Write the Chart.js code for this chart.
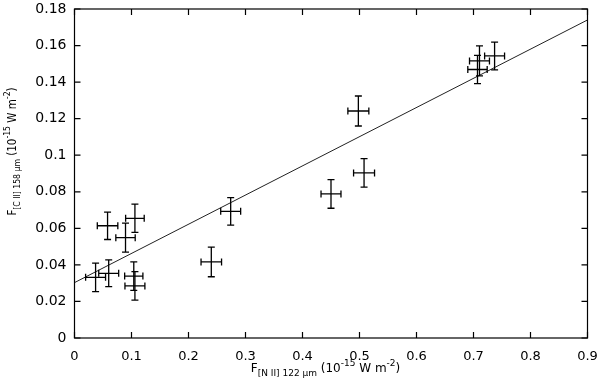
<!DOCTYPE html>
<html><head><meta charset="utf-8">
<script src="https://cdn.jsdelivr.net/npm/chart.js@4/dist/chart.umd.min.js"></script>
<style>html,body{margin:0;padding:0;background:#fff}#wrap{width:600px;height:391px}</style>
</head><body><div id="wrap"><canvas id="c" width="600" height="391"></canvas></div>
<script>
// Data
const xValues = [0.058, 0.0895, 0.106, 0.037, 0.060, 0.104, 0.106, 0.240, 0.274, 0.498, 0.508, 0.450, 0.7105, 0.707, 0.737];
const yValues = [0.0614, 0.0549, 0.0655, 0.0332, 0.0354, 0.0339, 0.0285, 0.0416, 0.0693, 0.1242, 0.0903, 0.0788, 0.1516, 0.1469, 0.1543];
const xErrors = [0.018, 0.017, 0.0163, 0.0175, 0.0175, 0.016, 0.0175, 0.018, 0.0175, 0.0184, 0.0184, 0.0175, 0.0175, 0.017, 0.0175];
const yErrors = [0.0075, 0.0079, 0.0077, 0.0078, 0.0073, 0.0078, 0.0078, 0.0081, 0.0075, 0.0082, 0.0078, 0.0078, 0.0082, 0.0077, 0.0076];
const fitX = [0, 0.9];
const fitY = [0.0303, 0.174];
const xTickValues = [0, 0.1, 0.2, 0.3, 0.4, 0.5, 0.6, 0.7, 0.8, 0.9];
const xTickLabels = ['0', '0.1', '0.2', '0.3', '0.4', '0.5', '0.6', '0.7', '0.8', '0.9'];
const yTickValues = [0, 0.02, 0.04, 0.06, 0.08, 0.1, 0.12, 0.14, 0.16, 0.18];
const yTickLabels = ['0', '0.02', '0.04', '0.06', '0.08', '0.1', '0.12', '0.14', '0.16', '0.18'];
const xTitleParts = [['F', 12, 0], ['[N II] 122 \u03bcm', 9, 4], [' (10', 12, 0], ['-15', 9, -6], [' W m', 12, 0], ['-2', 9, -6], [')', 12, 0]];
const yTitleParts = [['F', 12, 0], ['[C II] 158 \u03bcm', 9, 4], [' (10', 12, 0], ['-15', 9, -6], [' W m', 12, 0], ['-2', 9, -6], [')', 12, 0]];

const FONT = '"DejaVu Sans", "Liberation Sans", sans-serif';

function drawRich(ctx, parts, cx, cy, rotate, squeeze) {
  ctx.save();
  let total = 0;
  const w = parts.map(p => { ctx.font = p[1] + 'px ' + FONT; const m = ctx.measureText(p[0]).width; total += m; return m; });
  ctx.translate(cx, cy);
  if (rotate) ctx.rotate(-Math.PI / 2);
  ctx.scale(squeeze, 1);
  ctx.fillStyle = '#000';
  ctx.textBaseline = 'alphabetic';
  ctx.textAlign = 'left';
  let x = -total / 2;
  parts.forEach((p, i) => { ctx.font = p[1] + 'px ' + FONT; ctx.fillText(p[0], x, p[2]); x += w[i]; });
  ctx.restore();
}

const decor = {
  id: 'decor',
  afterDatasetsDraw(chart) {
    const ctx = chart.ctx, xs = chart.scales.x, ys = chart.scales.y;
    ctx.save();
    ctx.strokeStyle = '#000';
    ctx.lineWidth = 1.3;
    const cap = 3.5;
    for (let i = 0; i < xValues.length; i++) {
      const px = xs.getPixelForValue(xValues[i]);
      const py = ys.getPixelForValue(yValues[i]);
      const x1 = xs.getPixelForValue(xValues[i] - xErrors[i]);
      const x2 = xs.getPixelForValue(xValues[i] + xErrors[i]);
      const y1 = ys.getPixelForValue(yValues[i] - yErrors[i]);
      const y2 = ys.getPixelForValue(yValues[i] + yErrors[i]);
      ctx.beginPath();
      ctx.moveTo(x1, py); ctx.lineTo(x2, py);
      ctx.moveTo(x1, py - cap); ctx.lineTo(x1, py + cap);
      ctx.moveTo(x2, py - cap); ctx.lineTo(x2, py + cap);
      ctx.moveTo(px, y1); ctx.lineTo(px, y2);
      ctx.moveTo(px - cap, y1); ctx.lineTo(px + cap, y1);
      ctx.moveTo(px - cap, y2); ctx.lineTo(px + cap, y2);
      ctx.stroke();
    }
    ctx.restore();
  },
  afterDraw(chart) {
    const ctx = chart.ctx, a = chart.chartArea, xs = chart.scales.x, ys = chart.scales.y;
    ctx.save();
    ctx.strokeStyle = '#000';
    ctx.lineWidth = 1.2;
    ctx.strokeRect(a.left, a.top, a.right - a.left, a.bottom - a.top);
    ctx.beginPath();
    const tl = 6;
    xTickValues.forEach(v => {
      const p = xs.getPixelForValue(v);
      ctx.moveTo(p, a.bottom); ctx.lineTo(p, a.bottom - tl);
      ctx.moveTo(p, a.top); ctx.lineTo(p, a.top + tl);
    });
    yTickValues.forEach(v => {
      const p = ys.getPixelForValue(v);
      ctx.moveTo(a.left, p); ctx.lineTo(a.left + tl, p);
      ctx.moveTo(a.right, p); ctx.lineTo(a.right - tl, p);
    });
    ctx.stroke();
    ctx.restore();
    drawRich(ctx, xTitleParts, 325.5, 371.5, false, 1);
    drawRich(ctx, yTitleParts, 16, 151.5, true, 0.86);
  }
};

new Chart(document.getElementById('c'), {
  type: 'scatter',
  data: {
    datasets: [
      {
        label: 'data',
        data: xValues.map((v, i) => ({ x: v, y: yValues[i] })),
        pointRadius: 0,
        showLine: false
      },
      {
        label: 'fit',
        data: fitX.map((v, i) => ({ x: v, y: fitY[i] })),
        showLine: true,
        pointRadius: 0,
        borderColor: '#222',
        borderWidth: 1,
        fill: false
      }
    ]
  },
  options: {
    responsive: false,
    animation: false,
    devicePixelRatio: 1,
    layout: { padding: { left: 0, right: 12.5, top: 9, bottom: 0 } },
    plugins: { legend: { display: false }, tooltip: { enabled: false } },
    scales: {
      x: {
        type: 'linear', min: 0, max: 0.9,
        afterBuildTicks: s => { s.ticks = xTickValues.map(v => ({ value: v })); },
        afterFit: s => { s.height = 53; s.paddingLeft = 0; s.paddingRight = 0; },
        grid: { display: true, drawOnChartArea: false, drawTicks: false },
        border: { display: false },
        ticks: {
          color: '#000', padding: 11, maxRotation: 0, autoSkip: false,
          font: { family: FONT, size: 13 },
          callback: (v, i) => xTickLabels[i]
        }
      },
      y: {
        type: 'linear', min: 0, max: 0.18,
        afterBuildTicks: s => { s.ticks = yTickValues.map(v => ({ value: v })); },
        afterFit: s => { s.width = 74.5; s.paddingTop = 0; s.paddingBottom = 0; },
        grid: { display: true, drawOnChartArea: false, drawTicks: false },
        border: { display: false },
        ticks: {
          color: '#000', padding: 8, autoSkip: false,
          font: { family: FONT, size: 14 },
          callback: (v, i) => yTickLabels[i]
        }
      }
    }
  },
  plugins: [decor]
});
</script>
</body></html>
